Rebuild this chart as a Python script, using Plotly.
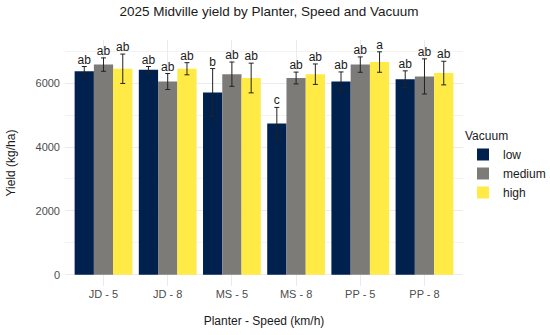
import plotly.graph_objects as go

categories = ["JD - 5", "JD - 8", "MS - 5", "MS - 8", "PP - 5", "PP - 8"]
vacuum_levels = ["low", "medium", "high"]

low_mean = [6370, 6420, 5705, 4740, 6050, 6125]
low_err = [150, 100, 750, 500, 300, 260]
low_lbl = ["ab", "ab", "b", "c", "ab", "ab"]

medium_mean = [6580, 6050, 6280, 6160, 6580, 6210]
medium_err = [210, 250, 380, 185, 240, 550]
medium_lbl = ["ab", "ab", "ab", "ab", "ab", "ab"]

high_mean = [6450, 6450, 6160, 6280, 6660, 6315]
high_err = [460, 190, 465, 320, 320, 370]
high_lbl = ["ab", "ab", "ab", "ab", "a", "ab"]

colors = {"low": "#00204D", "medium": "#7C7B78", "high": "#FFEA46"}
series = {
    "low": (low_mean, low_err, low_lbl),
    "medium": (medium_mean, medium_err, medium_lbl),
    "high": (high_mean, high_err, high_lbl),
}
offsets = {"low": -0.3, "medium": 0.0, "high": 0.3}

fig = go.Figure()
for lev in vacuum_levels:
    m, e, l = series[lev]
    xs = [i + 1 + offsets[lev] for i in range(len(categories))]
    fig.add_trace(go.Bar(
        x=xs, y=m, width=0.3, name=lev,
        marker=dict(color=colors[lev], line=dict(width=0)),
        error_y=dict(type="data", array=e, color="#222222", thickness=1, width=2.5),
    ))
for lev in vacuum_levels:
    m, e, l = series[lev]
    xs = [i + 1 + offsets[lev] for i in range(len(categories))]
    fig.add_trace(go.Scatter(
        x=xs, y=[a + b for a, b in zip(m, e)], text=l, mode="text",
        textposition="top center", showlegend=False, hoverinfo="skip",
        textfont=dict(size=12, color="#1a1a1a"),
    ))

fig.update_layout(
    width=550, height=335,
    margin=dict(l=65, r=77, t=40, b=49),
    paper_bgcolor="white", plot_bgcolor="white",
    font=dict(family="Liberation Sans, Arial, sans-serif", size=11, color="#1a1a1a"),
    title=dict(text="2025 Midville yield by Planter, Speed and Vacuum",
               x=(65 + 473) / 2 / 550, xanchor="center", y=0.965, yanchor="middle",
               font=dict(size=13.5, color="#1a1a1a")),
    barmode="overlay",
    legend=dict(title=dict(text="Vacuum", font=dict(size=12)),
                xref="container", yref="container",
                x=463 / 550, xanchor="left", y=1 - 166 / 335, yanchor="middle",
                font=dict(size=12), itemsizing="constant", tracegroupgap=0),
    xaxis=dict(range=[0.4, 6.6], tickvals=[1, 2, 3, 4, 5, 6], ticktext=categories,
               showgrid=True, gridcolor="#EBEBEB", gridwidth=1, zeroline=False,
               showline=False, ticks="", tickfont=dict(size=11, color="#4D4D4D"),
               automargin=False,
               title=dict(text="Planter - Speed (km/h)", font=dict(size=12), standoff=17)),
    yaxis=dict(range=[-350, 7350], tickvals=[0, 2000, 4000, 6000],
               showgrid=True, gridcolor="#EBEBEB", gridwidth=1, zeroline=False,
               minor=dict(tickvals=[1000, 3000, 5000, 7000], showgrid=True,
                          gridcolor="#F3F3F3", gridwidth=0.6),
               showline=False, ticks="", tickfont=dict(size=11, color="#4D4D4D"),
               ticklabelstandoff=4, automargin=False,
               title=dict(text="Yield (kg/ha)", font=dict(size=12), standoff=17)),
)

fig.write_html("out.html", config={"displayModeBar": False},
               post_script="document.body.style.margin='0';")
